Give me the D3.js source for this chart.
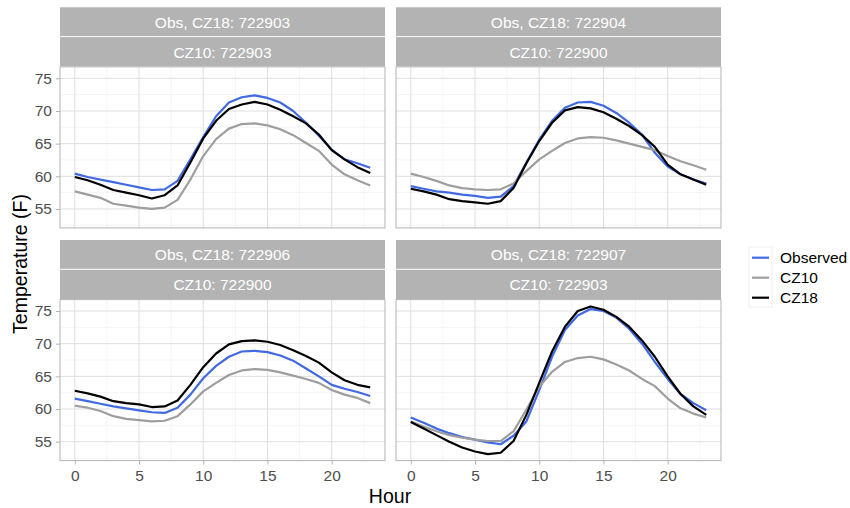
<!DOCTYPE html>
<html>
<head>
<meta charset="utf-8">
<script src="https://cdn.jsdelivr.net/npm/d3@7"></script>
<style>
  body { margin: 0; background: #fff; }
  svg { font-family: "Liberation Sans", Arial, sans-serif; }
</style>
</head>
<body>
<div id="chart"></div>
<script>
const hours = d3.range(0, 24);
const seriesNames = ['Observed', 'CZ10', 'CZ18'];
const seriesColors = ['#4169e1', '#9e9e9e', '#000000'];
const xTicks = [0, 5, 10, 15, 20];
const yTicks = [55, 60, 65, 70, 75];

const stripTop = ['Obs, CZ18: 722903', 'Obs, CZ18: 722904', 'Obs, CZ18: 722906', 'Obs, CZ18: 722907'];
const stripBottom = ['CZ10: 722903', 'CZ10: 722900', 'CZ10: 722900', 'CZ10: 722903'];

// panel 1
const p1Observed = [60.4, 59.9, 59.5, 59.1, 58.7, 58.3, 57.9, 58.0, 59.3, 62.6, 66.0, 69.2, 71.3, 72.1, 72.4, 72.0, 71.3, 70.0, 68.2, 66.2, 64.1, 62.6, 62.0, 61.3];
const p1CZ10 = [57.7, 57.2, 56.7, 55.8, 55.5, 55.2, 55.0, 55.2, 56.4, 59.5, 63.1, 65.7, 67.3, 68.0, 68.1, 67.8, 67.2, 66.3, 65.1, 63.9, 61.8, 60.3, 59.4, 58.6];
const p1CZ18 = [59.9, 59.4, 58.7, 57.9, 57.5, 57.1, 56.6, 57.1, 58.6, 62.1, 65.8, 68.5, 70.3, 71.0, 71.4, 71.0, 70.2, 69.2, 68.1, 66.4, 64.0, 62.6, 61.4, 60.5];
// panel 2
const p2Observed = [58.5, 58.1, 57.7, 57.5, 57.2, 57.0, 56.7, 56.9, 58.5, 62.1, 65.6, 68.5, 70.5, 71.3, 71.4, 70.8, 69.7, 68.2, 66.4, 63.6, 61.5, 60.3, 59.5, 58.9];
const p2CZ10 = [60.4, 59.9, 59.3, 58.6, 58.2, 58.0, 57.9, 58.0, 58.9, 60.8, 62.6, 63.9, 65.1, 65.8, 66.0, 65.9, 65.5, 65.0, 64.5, 64.0, 63.1, 62.3, 61.7, 61.0];
const p2CZ18 = [58.1, 57.7, 57.2, 56.5, 56.2, 56.0, 55.8, 56.2, 58.2, 62.0, 65.4, 68.2, 70.1, 70.6, 70.4, 69.8, 68.8, 67.7, 66.3, 64.5, 61.8, 60.3, 59.5, 58.7];
// panel 3
const p3Observed = [61.6, 61.2, 60.8, 60.4, 60.1, 59.8, 59.5, 59.4, 60.2, 62.2, 64.7, 66.6, 68.0, 68.8, 68.9, 68.7, 68.2, 67.4, 66.2, 65.0, 63.7, 63.1, 62.6, 62.0];
const p3CZ10 = [60.5, 60.2, 59.7, 58.9, 58.5, 58.3, 58.1, 58.2, 58.9, 60.7, 62.7, 64.0, 65.2, 65.9, 66.1, 66.0, 65.6, 65.1, 64.6, 64.0, 62.9, 62.2, 61.7, 60.9];
const p3CZ18 = [62.8, 62.4, 61.9, 61.2, 60.9, 60.7, 60.3, 60.4, 61.3, 63.7, 66.4, 68.5, 69.9, 70.4, 70.5, 70.3, 69.8, 69.0, 68.1, 67.1, 65.6, 64.4, 63.7, 63.3];
// panel 4
const p4Observed = [58.7, 57.9, 57.0, 56.3, 55.7, 55.3, 54.9, 54.6, 55.9, 58.1, 62.9, 68.0, 72.1, 74.3, 75.3, 75.0, 74.0, 72.3, 70.0, 67.2, 64.6, 62.3, 60.9, 59.8];
const p4CZ10 = [58.1, 57.3, 56.6, 56.0, 55.6, 55.3, 55.1, 55.1, 56.6, 59.9, 63.4, 65.7, 67.2, 67.8, 68.0, 67.6, 66.8, 65.9, 64.6, 63.5, 61.6, 60.1, 59.3, 58.7];
const p4CZ18 = [58.0, 57.0, 56.0, 55.0, 54.1, 53.5, 53.1, 53.3, 55.1, 59.1, 64.0, 68.8, 72.6, 75.0, 75.7, 75.2, 74.1, 72.6, 70.5, 68.0, 65.0, 62.3, 60.4, 59.1];

const panelSeries = [
  [p1Observed, p1CZ10, p1CZ18],
  [p2Observed, p2CZ10, p2CZ18],
  [p3Observed, p3CZ10, p3CZ18],
  [p4Observed, p4CZ10, p4CZ18]
];

const width = 850;
const height = 508;
const colX = [60, 396];
const rowY = [7.3, 240];
const panelW = 325;
const stripH = 29.8;
const plotH = 161;
const smallFont = '15.5px';

const svg = d3.select('#chart')
  .append('svg')
  .attr('width', width)
  .attr('height', height);

const x = d3.scaleLinear().domain([-1.15, 24.15]);
const y = d3.scaleLinear().domain([52.1, 76.75]);
const xMinor = [2.5, 7.5, 12.5, 17.5, 22.5];
const yMinor = [52.5, 57.5, 62.5, 67.5, 72.5];

panelSeries.forEach((series, i) => {
  const col = i % 2;
  const row = Math.floor(i / 2);
  const left = colX[col];
  const top = rowY[row];
  const plotTop = top + stripH * 2;

  x.range([left, left + panelW]);
  y.range([plotTop + plotH, plotTop]);

  const g = svg.append('g');

  // strips
  [stripTop[i], stripBottom[i]].forEach((label, k) => {
    g.append('rect')
      .attr('x', left)
      .attr('y', top + k * stripH)
      .attr('width', panelW)
      .attr('height', stripH - (k === 0 ? 1 : 0.5))
      .attr('fill', '#b3b3b3');
    g.append('text')
      .attr('x', left + panelW / 2)
      .attr('y', top + k * stripH + stripH / 2 + 5.5)
      .attr('text-anchor', 'middle')
      .attr('fill', '#ffffff')
      .style('font-size', smallFont)
      .text(label);
  });

  // grid
  g.selectAll('.ymin')
    .data(yMinor)
    .join('line')
      .attr('x1', left).attr('x2', left + panelW)
      .attr('y1', d => y(d)).attr('y2', d => y(d))
      .attr('stroke', '#ececec').attr('stroke-width', 0.6);
  g.selectAll('.xmin')
    .data(xMinor)
    .join('line')
      .attr('y1', plotTop).attr('y2', plotTop + plotH)
      .attr('x1', d => x(d)).attr('x2', d => x(d))
      .attr('stroke', '#ececec').attr('stroke-width', 0.6);
  g.append('g').selectAll('line')
    .data(yTicks)
    .join('line')
      .attr('x1', left).attr('x2', left + panelW)
      .attr('y1', d => y(d)).attr('y2', d => y(d))
      .attr('stroke', '#dedede').attr('stroke-width', 1);
  g.append('g').selectAll('line')
    .data(xTicks)
    .join('line')
      .attr('y1', plotTop).attr('y2', plotTop + plotH)
      .attr('x1', d => x(d)).attr('x2', d => x(d))
      .attr('stroke', '#dedede').attr('stroke-width', 1);

  // lines
  const line = d3.line()
    .x((d, j) => x(hours[j]))
    .y(d => y(d));

  series.forEach((vals, s) => {
    g.append('path')
      .datum(vals)
      .attr('d', line)
      .attr('fill', 'none')
      .attr('stroke', seriesColors[s])
      .attr('stroke-width', 2.2)
      .attr('stroke-linejoin', 'round');
  });

  // border
  g.append('rect')
    .attr('x', left)
    .attr('y', plotTop)
    .attr('width', panelW)
    .attr('height', plotH)
    .attr('fill', 'none')
    .attr('stroke', '#b3b3b3')
    .attr('stroke-width', 1);

  // axes
  if (col === 0) {
    const ay = g.append('g')
      .attr('transform', `translate(${left},0)`)
      .call(d3.axisLeft(y).tickValues(yTicks).tickSize(4).tickPadding(4));
    ay.select('.domain').remove();
    ay.selectAll('line').attr('stroke', '#b3b3b3');
    ay.selectAll('text')
      .attr('fill', '#4d4d4d')
      .style('font-size', smallFont)
      .style('font-family', '"Liberation Sans", Arial, sans-serif');
  }
  if (row === 1) {
    const ax = g.append('g')
      .attr('transform', `translate(0,${plotTop + plotH})`)
      .call(d3.axisBottom(x).tickValues(xTicks).tickSize(4).tickPadding(5));
    ax.select('.domain').remove();
    ax.selectAll('line').attr('stroke', '#b3b3b3');
    ax.selectAll('text')
      .attr('fill', '#4d4d4d')
      .style('font-size', smallFont)
      .style('font-family', '"Liberation Sans", Arial, sans-serif');
  }
});

// axis titles
svg.append('text')
  .attr('x', 390)
  .attr('y', 503)
  .attr('text-anchor', 'middle')
  .style('font-size', '19.5px')
  .text('Hour');

svg.append('text')
  .attr('transform', 'translate(27,264) rotate(-90)')
  .attr('text-anchor', 'middle')
  .style('font-size', '19.5px')
  .text('Temperature (F)');

// legend
const legend = svg.append('g')
  .attr('transform', 'translate(749,247)');

legend.append('rect')
  .attr('width', 23)
  .attr('height', 60)
  .attr('fill', 'none')
  .attr('stroke', '#ebebeb')
  .attr('stroke-width', 0.8);

const items = legend.selectAll('g')
  .data(seriesNames)
  .join('g')
    .attr('transform', (d, i) => `translate(0,${10.7 + i * 20})`);

items.append('line')
  .attr('x1', 3).attr('x2', 20)
  .attr('stroke', (d, i) => seriesColors[i])
  .attr('stroke-width', 2.2);

items.append('text')
  .attr('x', 31)
  .attr('y', 5.5)
  .style('font-size', smallFont)
  .text(d => d);
</script>
</body>
</html>
